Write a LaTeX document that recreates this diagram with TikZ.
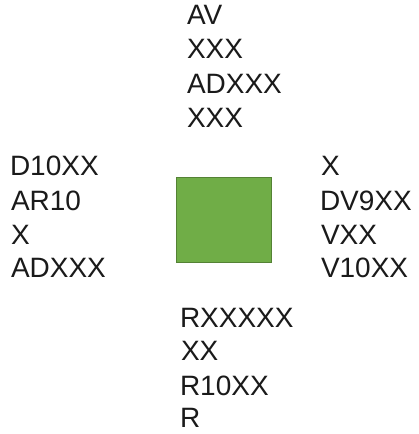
\documentclass[tikz,border=0pt]{standalone}
\usepackage{fontspec}
\setmainfont{Liberation Sans}
\definecolor{boxfill}{HTML}{70AD47}
\definecolor{boxline}{HTML}{548235}
\definecolor{txt}{HTML}{1A1A1A}
\begin{document}
\begin{tikzpicture}[x=1pt,y=-1pt,
  lbl/.style={anchor=base west,inner sep=0pt,outer sep=0pt,text=txt,font=\fontsize{28}{34}\selectfont},
  greenbox/.style={draw=boxline,fill=boxfill,line width=0.8pt,minimum width=95pt,minimum height=85pt,inner sep=0pt}]
\useasboundingbox (0,0) rectangle (419,434);
\node[greenbox] (sq) at (223.5,219.5) {};
% top
\node[lbl] (t1) at (187,24) {AV};
\node[lbl] (t2) at (187,58) {XXX};
\node[lbl] (t3) at (187,93) {ADXXX};
\node[lbl] (t4) at (187,127) {XXX};
% left
\node[lbl] (l1) at (10,175) {D10XX};
\node[lbl] (l2) at (11,210) {AR10};
\node[lbl] (l3) at (11,244) {X};
\node[lbl] (l4) at (11,277) {ADXXX};
% right
\node[lbl] (r1) at (321,175) {X};
\node[lbl] (r2) at (320,210) {DV9XX};
\node[lbl] (r3) at (321,244) {VXX};
\node[lbl] (r4) at (321,277) {V10XX};
% bottom
\node[lbl] (b1) at (180,327) {RXXXXX};
\node[lbl] (b2) at (181,360) {XX};
\node[lbl] (b3) at (180,395) {R10XX};
\node[lbl] (b4) at (180,427) {R};
\end{tikzpicture}
\end{document}
